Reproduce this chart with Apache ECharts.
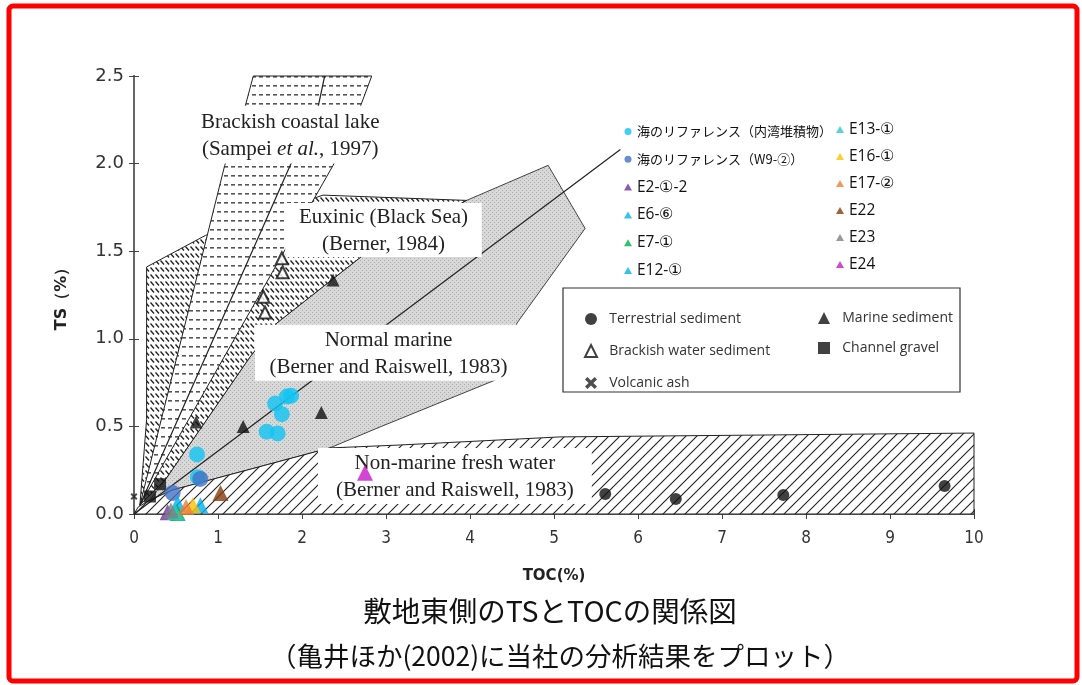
<!DOCTYPE html>
<html>
<head>
<meta charset="utf-8">
<script src="https://cdn.jsdelivr.net/npm/echarts@6/dist/echarts.min.js"></script>
<style>
html, body { margin: 0; padding: 0; background: #fff; }
#chart { width: 1082px; height: 685px; }
</style>
</head>
<body>
<div id="chart"></div>
<script>
// 軸
var tocRange = [0, 10];
var tsRange = [0, 2.5];

// 背景図（亀井ほか 2002）の領域 [TOC, TS]
var nonMarineArea = [[0, 0], [0.05, 0.04], [0.19, 0.08], [0.46, 0.137], [2.33, 0.377], [3.17, 0.394], [4.12, 0.417], [5.07, 0.44], [10, 0.462], [10, 0]];
var normalMarineArea = [[0.19, 0.08], [0.37, 0.194], [1.38, 0.896], [1.70, 1.09], [2.73, 1.478], [3.96, 1.79], [4.93, 1.99], [5.37, 1.63], [4.56, 1.09], [4.36, 0.776], [2.93, 0.497], [2.33, 0.377], [0.46, 0.137]];
var euxinicArea = [[0.07, 0.05], [0.15, 0.54], [0.15, 1.41], [0.85, 1.59], [2.25, 1.82], [3.96, 1.79], [2.73, 1.478], [1.70, 1.09], [1.38, 0.896], [0.37, 0.194]];
var brackishArea = [[0.07, 0.05], [1.08, 1.99], [1.32, 2.32], [1.42, 2.5], [2.83, 2.5], [2.69, 2.32], [2.37, 1.99]];
var brackishMidLine = [[0.07, 0.05], [1.86, 1.99], [2.19, 2.32], [2.27, 2.5]];
var csLine = [[0, 0], [5.79, 2.08]];

// 背景図の領域名
var regionLabels = [
  { box: [0.58, 2.33, 3.14, 2.0], text: 'Brackish coastal lake\n(Sampei {i|et al.}, 1997)' },
  { box: [1.80, 1.775, 4.14, 1.467], text: 'Euxinic (Black Sea)\n(Berner, 1984)' },
  { box: [1.44, 1.08, 4.62, 0.76], text: 'Normal marine\n(Berner and Raiswell, 1983)' },
  { box: [2.19, 0.377, 5.45, 0.057], text: 'Non-marine fresh water\n(Berner and Raiswell, 1983)' }
];

// 背景図の試料
var terrestrial = [[5.61, 0.114], [6.45, 0.086], [7.73, 0.108], [9.65, 0.16]];
var marine = [[0.74, 0.525], [1.30, 0.50], [2.23, 0.58], [2.37, 1.335]];
var brackishWater = [[1.76, 1.46], [1.77, 1.38], [1.54, 1.24], [1.56, 1.15]];
var channelGravel = [[0.31, 0.17], [0.19, 0.10]];
var volcanicAsh = [[0.0, 0.1]];

// 当社の分析結果
var seaInnerBay = [[1.68, 0.63], [1.82, 0.67], [1.87, 0.675], [1.76, 0.57], [1.58, 0.47], [1.71, 0.46], [0.75, 0.34], [0.76, 0.21]];
var seaW9 = [[0.79, 0.20], [0.46, 0.12]];
var sampleNames = ['E2-①-2', 'E6-⑥', 'E7-①', 'E12-①', 'E13-①', 'E16-①', 'E17-②', 'E22', 'E23', 'E24'];
var sampleValues = [[0.40, 0.01], [0.52, 0.06], [0.52, 0.005], [0.79, 0.05], [0.49, 0.012], [0.70, 0.05], [0.62, 0.04], [1.03, 0.12], [0.44, 0.02], [2.75, 0.235]];

var sampleColors = ['#7030a0', '#00b0f0', '#00b050', '#00b0f0', '#2ec8c0', '#ffc000', '#ed7d31', '#843c0c', '#7f7f7f', '#c818c8'];

function makePattern(w, h, draw) {
  var c = document.createElement('canvas');
  c.width = w; c.height = h;
  var g = c.getContext('2d');
  g.fillStyle = '#fff';
  g.fillRect(0, 0, w, h);
  draw(g);
  return { image: c, repeat: 'repeat' };
}

var diagHatch = makePattern(11, 11, function (g) {
  g.strokeStyle = '#222'; g.lineWidth = 1.1;
  g.beginPath();
  g.moveTo(-1, 12); g.lineTo(12, -1);
  g.moveTo(-1, 1); g.lineTo(1, -1);
  g.moveTo(10, 12); g.lineTo(12, 10);
  g.stroke();
});
var dashHatch = makePattern(7, 9, function (g) {
  g.fillStyle = '#555';
  g.fillRect(0, 4, 4, 1.6);
});
var slashHatch = makePattern(5, 7, function (g) {
  g.strokeStyle = '#222'; g.lineWidth = 1.3;
  g.beginPath(); g.moveTo(0.5, 1.5); g.lineTo(4, 5.5); g.stroke();
});
var grayDots = makePattern(4, 4, function (g) {
  g.fillStyle = '#d8d8d8'; g.fillRect(0, 0, 4, 4);
  g.fillStyle = '#ababab';
  g.fillRect(0, 0, 1, 1); g.fillRect(2, 2, 1, 1);
});

function areaSeries(pts, fill, stroke) {
  return {
    type: 'custom', silent: true, z: 1,
    data: pts,
    renderItem: function (params, api) {
      if (params.dataIndex !== 0) return null;
      return {
        type: 'polygon',
        shape: { points: pts.map(function (p) { return api.coord(p); }) },
        style: { fill: fill, stroke: stroke, lineWidth: 1 }
      };
    }
  };
}

function lineSeries(pts) {
  return {
    type: 'custom', silent: true, z: 1,
    data: pts,
    renderItem: function (params, api) {
      if (params.dataIndex !== 0) return null;
      return {
        type: 'polyline',
        shape: { points: pts.map(function (p) { return api.coord(p); }) },
        style: { fill: null, stroke: '#222', lineWidth: 1.2 }
      };
    }
  };
}

var serif = '"Liberation Serif", "DejaVu Serif", serif';

var labelSeries = {
  type: 'custom', silent: true, z: 1,
  data: regionLabels.map(function (d) { return d.box; }),
  renderItem: function (params, api) {
    var p1 = api.coord([api.value(0), api.value(1)]);
    var p2 = api.coord([api.value(2), api.value(3)]);
    return {
      type: 'group',
      children: [
        { type: 'rect', shape: { x: p1[0], y: p1[1], width: p2[0] - p1[0], height: p2[1] - p1[1] }, style: { fill: '#fff' } },
        { type: 'text', style: {
          text: regionLabels[params.dataIndex].text,
          x: (p1[0] + p2[0]) / 2, y: (p1[1] + p2[1]) / 2 + 1,
          align: 'center', verticalAlign: 'middle',
          fontSize: 21, fontFamily: serif, fill: '#222', lineHeight: 27,
          rich: { i: { fontStyle: 'italic', fontSize: 21, fontFamily: serif, fill: '#222', lineHeight: 27 } }
        } }
      ]
    };
  }
};

var ashSymbol = 'path://M0,2L2,0L5,3L8,0L10,2L7,5L10,8L8,10L5,7L2,10L0,8L3,5Z';

var series = [
  areaSeries(normalMarineArea, grayDots, '#444'),
  areaSeries(euxinicArea, slashHatch, '#222'),
  areaSeries(nonMarineArea, diagHatch, '#222'),
  areaSeries(brackishArea, dashHatch, '#222'),
  lineSeries(brackishMidLine),
  lineSeries(csLine),
  labelSeries,
  { name: 'Terrestrial sediment', type: 'scatter', symbol: 'circle', symbolSize: 12, data: terrestrial, itemStyle: { color: '#111' }, z: 3 },
  { name: 'Marine sediment', type: 'scatter', symbol: 'triangle', symbolSize: 13, data: marine, itemStyle: { color: '#111' }, z: 3 },
  { name: 'Brackish water sediment', type: 'scatter', symbol: 'emptyTriangle', symbolSize: 12, data: brackishWater, itemStyle: { color: '#111', borderWidth: 2 }, z: 3 },
  { name: 'Channel gravel', type: 'scatter', symbol: 'rect', symbolSize: 12, data: channelGravel, itemStyle: { color: '#111' }, z: 3 },
  { name: 'Volcanic ash', type: 'scatter', symbol: ashSymbol, symbolSize: 7, data: volcanicAsh, itemStyle: { color: '#222' }, z: 3 },
  { name: '海のリファレンス（内湾堆積物）', type: 'scatter', symbol: 'circle', symbolSize: 16, data: seaInnerBay, itemStyle: { color: '#10c4f4' }, z: 5 },
  { name: '海のリファレンス（W9-②）', type: 'scatter', symbol: 'circle', symbolSize: 16, data: seaW9, itemStyle: { color: '#4472c4' }, z: 5 }
];
sampleNames.forEach(function (n, i) {
  series.push({ name: n, type: 'scatter', symbol: 'triangle', symbolSize: 16, data: [sampleValues[i]], itemStyle: { color: sampleColors[i] }, z: 6 });
});

var jp = '"Noto Sans CJK JP", sans-serif';
var legendBase = {
  orient: 'vertical', selectedMode: false, itemWidth: 8, itemHeight: 7,
  formatter: function (name) { return /^E/.test(name) ? '{e|' + name + '}' : '{j|' + name + '}'; },
  textStyle: {
    color: '#111', fontFamily: jp,
    rich: {
      j: { fontSize: 13, fontFamily: jp, color: '#111', height: 17, lineHeight: 17 },
      e: { fontSize: 15.5, fontFamily: '"Open Sans", sans-serif', color: '#111', height: 17, lineHeight: 17 }
    }
  }
};
var scanLegendBase = {
  orient: 'vertical', selectedMode: false, itemWidth: 12, itemHeight: 12, z: 5,
  formatter: '  {name}',
  textStyle: { fontSize: 14, color: '#333', fontFamily: '"Open Sans", sans-serif' }
};

var axisCommon = {
  axisLine: { show: true, lineStyle: { color: '#666', width: 2 } },
  axisTick: { show: true, inside: true, length: 5, lineStyle: { color: '#444' } },
  splitLine: { show: false }
};

var chart = echarts.init(document.getElementById('chart'));
chart.setOption({
  animation: false,
  backgroundColor: '#fff',
  grid: { left: 134, right: 108, top: 76, bottom: 171 },
  xAxis: [
    Object.assign({ type: 'value', min: tocRange[0], max: tocRange[1], interval: 1, position: 'bottom',
      axisLabel: { fontSize: 17, color: '#333', margin: 16, fontFamily: '"Liberation Sans Narrow", "DejaVu Sans Condensed", "Liberation Sans", sans-serif' },
      name: 'TOC(%)', nameLocation: 'middle', nameGap: 55,
      nameTextStyle: { fontSize: 15, fontWeight: 'bold', color: '#222', fontFamily: '"DejaVu Sans", sans-serif' } }, axisCommon),
    Object.assign({ type: 'value', min: tocRange[0], max: tocRange[1], interval: 1, position: 'top', axisLabel: { show: false } }, axisCommon)
  ],
  yAxis: [
    Object.assign({ type: 'value', min: tsRange[0], max: tsRange[1], interval: 0.5, position: 'left',
      axisLabel: { fontSize: 18, color: '#333', margin: 10, fontFamily: '"DejaVu Sans", sans-serif', formatter: function (v) { return v.toFixed(1); } },
      name: 'TS（%）', nameLocation: 'middle', nameGap: 64,
      nameTextStyle: { fontSize: 16, fontWeight: 'bold', color: '#222', fontFamily: '"DejaVu Sans", sans-serif' } }, axisCommon),
    Object.assign({ type: 'value', min: tsRange[0], max: tsRange[1], interval: 0.5, position: 'right', axisLabel: { show: false } }, axisCommon)
  ],
  legend: [
    Object.assign({ data: ['海のリファレンス（内湾堆積物）', '海のリファレンス（W9-②）', 'E2-①-2', 'E6-⑥', 'E7-①', 'E12-①'], left: 619, top: 118, itemGap: 10.8 }, legendBase),
    Object.assign({ data: ['E13-①', 'E16-①', 'E17-②', 'E22', 'E23', 'E24'], left: 831, top: 116, itemGap: 10 }, legendBase),
    Object.assign({ data: ['Terrestrial sediment', 'Brackish water sediment', 'Volcanic ash'], left: 579, top: 307, itemGap: 18 }, scanLegendBase),
    Object.assign({ data: ['Marine sediment', 'Channel gravel'], left: 813, top: 306, itemGap: 16 }, scanLegendBase)
  ],
  graphic: [
    { type: 'rect', z: 3, shape: { x: 563, y: 288, width: 397, height: 104 }, style: { fill: '#fff', stroke: '#333', lineWidth: 1.2 } },
    { type: 'text', z: 3, x: 550, y: 611, style: { text: '敷地東側のTSとTOCの関係図', align: 'center', verticalAlign: 'middle', fontSize: 28.5, fontFamily: jp, fill: '#111' } },
    { type: 'text', z: 3, x: 560, y: 656, style: { text: '（亀井ほか(2002)に当社の分析結果をプロット）', align: 'center', verticalAlign: 'middle', fontSize: 26.5, fontFamily: jp, fill: '#111' } },
    { type: 'rect', z: 20, shape: { x: 9, y: 6, width: 1068, height: 675, r: 4 }, style: { fill: 'none', stroke: '#ff0000', lineWidth: 5 } }
  ],
  series: series
});
</script>
</body>
</html>
